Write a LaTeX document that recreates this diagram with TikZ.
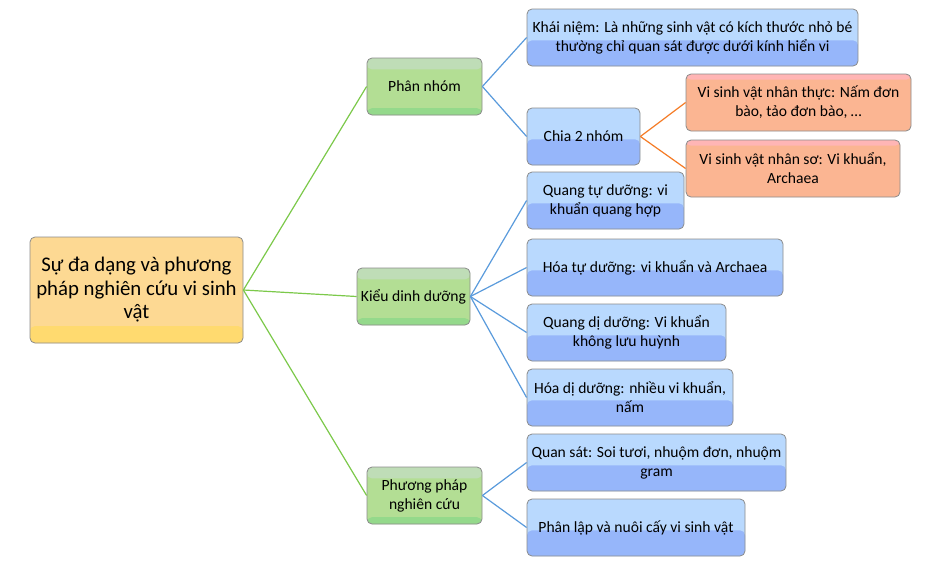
\documentclass[tikz,border=0pt]{standalone}
\usepackage{fontspec}
\setmainfont{Carlito}
\usetikzlibrary{positioning}
\usetikzlibrary{calc}
\definecolor{rootfill}{HTML}{FDD993}
\definecolor{rootbot}{HTML}{FFDA6F}
\definecolor{greenfill}{HTML}{B3DE94}
\definecolor{greentop}{HTML}{BFDDB7}
\definecolor{greenbot}{HTML}{94D98B}
\definecolor{bluetop}{HTML}{B9D9FE}
\definecolor{bluebot}{HTML}{96B6FA}
\definecolor{orangefill}{HTML}{FBB592}
\definecolor{orangetop}{HTML}{FFB5B5}
\definecolor{boxline}{HTML}{8C8C8C}
\definecolor{greenline}{HTML}{7CC94A}
\definecolor{blueline}{HTML}{5A9BDC}
\definecolor{orangeline}{HTML}{F57B25}
\tikzstyle{box}=[rectangle,rounded corners=5pt,draw=boxline,line width=0.8pt,align=center,inner sep=2pt,minimum height=57pt,font=\fontsize{15.6}{19}\selectfont]
\tikzstyle{rootbox}=[box,fill=rootfill,minimum width=213pt,minimum height=106pt,font=\fontsize{20.8}{23.5}\selectfont,
  path picture={\fill[rootbot] (path picture bounding box.south west) rectangle ($(path picture bounding box.south east)!0.16!(path picture bounding box.north east)$);}]
\tikzstyle{greenbox}=[box,fill=greenfill,
  path picture={\fill[greentop] (path picture bounding box.north west) rectangle ($(path picture bounding box.north east)!0.2!(path picture bounding box.south east)$);
                \fill[greenbot] (path picture bounding box.south west) rectangle ($(path picture bounding box.south east)!0.12!(path picture bounding box.north east)$);}]
\tikzstyle{bluebox}=[box,fill=bluetop,
  path picture={\fill[bluebot] (path picture bounding box.south west) rectangle ($(path picture bounding box.south east)!0.45!(path picture bounding box.north east)$);}]
\tikzstyle{orangebox}=[box,fill=orangefill,
  path picture={\fill[orangetop] (path picture bounding box.north west) rectangle ($(path picture bounding box.north east)!0.1!(path picture bounding box.south east)$);}]
\tikzstyle{greenedge} = [draw,line width=1.2pt,greenline]
\tikzstyle{blueedge} = [draw,line width=1.2pt,blueline]
\tikzstyle{orangeedge} = [draw,line width=1.2pt,orangeline]

\begin{document}
\begin{tikzpicture}[x=1pt,y=-1pt]
    \useasboundingbox[fill=white] (0,0) rectangle (937,576);
    % Root of the map
    \node[rootbox] (root) at (136.5,290) {Sự đa dạng và phương\\pháp nghiên cứu vi sinh\\vật};

    % First level
    \foreach \pos/\name/\boxw/\label in {{(424.5,86.5)/phannhom/115/Phân nhóm}, {(413.5,296.5)/dinhduong/113/Kiểu dinh dưỡng}, {(424.5,495.5)/phuongphap/115/Phương pháp\\nghiên cứu}}
        \node[greenbox,minimum width=\boxw pt] (\name) at \pos {\label};

    % Second level
    \foreach \pos/\name/\boxw/\label in {{(692.5,37.5)/khainiem/331/Khái niệm: Là những sinh vật có kích thước nhỏ bé\\thường chỉ quan sát được dưới kính hiển vi},
        {(583.5,136.5)/chiahai/113/Chia 2 nhóm},
        {(605.5,200.5)/quangtu/157/Quang tự dưỡng: vi\\khuẩn quang hợp},
        {(655,267.5)/hoatu/256/Hóa tự dưỡng: vi khuẩn và Archaea},
        {(626.5,332.5)/quangdi/199/Quang dị dưỡng: Vi khuẩn\\không lưu huỳnh},
        {(630,397.5)/hoadi/206/Hóa dị dưỡng: nhiều vi khuẩn,\\nấm},
        {(656.5,462.5)/quansat/259/Quan sát: Soi tươi, nhuộm đơn, nhuộm\\gram},
        {(636,527.5)/phanlap/218/Phân lập và nuôi cấy vi sinh vật}}
        \node[bluebox,minimum width=\boxw pt] (\name) at \pos {\label};

    % Third level
    \foreach \pos/\name/\boxw/\label in {{(798.5,102.5)/nhanthuc/225/Vi sinh vật nhân thực: Nấm đơn\\bào, tảo đơn bào, \ldots},
        {(793,168.5)/nhanso/214/Vi sinh vật nhân sơ: Vi khuẩn,\\Archaea}}
        \node[orangebox,minimum width=\boxw pt] (\name) at \pos {\label};

    % Connect the boxes
    \foreach \source/\dest in {root/phannhom, root/dinhduong, root/phuongphap}
        \path[greenedge] (\source.east) -- (\dest.west);
    \foreach \source/\dest in {phannhom/khainiem, phannhom/chiahai, dinhduong/quangtu, dinhduong/hoatu, dinhduong/quangdi, dinhduong/hoadi, phuongphap/quansat, phuongphap/phanlap}
        \path[blueedge] (\source.east) -- (\dest.west);
    \foreach \source/\dest in {chiahai/nhanthuc, chiahai/nhanso}
        \path[orangeedge] (\source.east) -- (\dest.west);
\end{tikzpicture}
\end{document}
